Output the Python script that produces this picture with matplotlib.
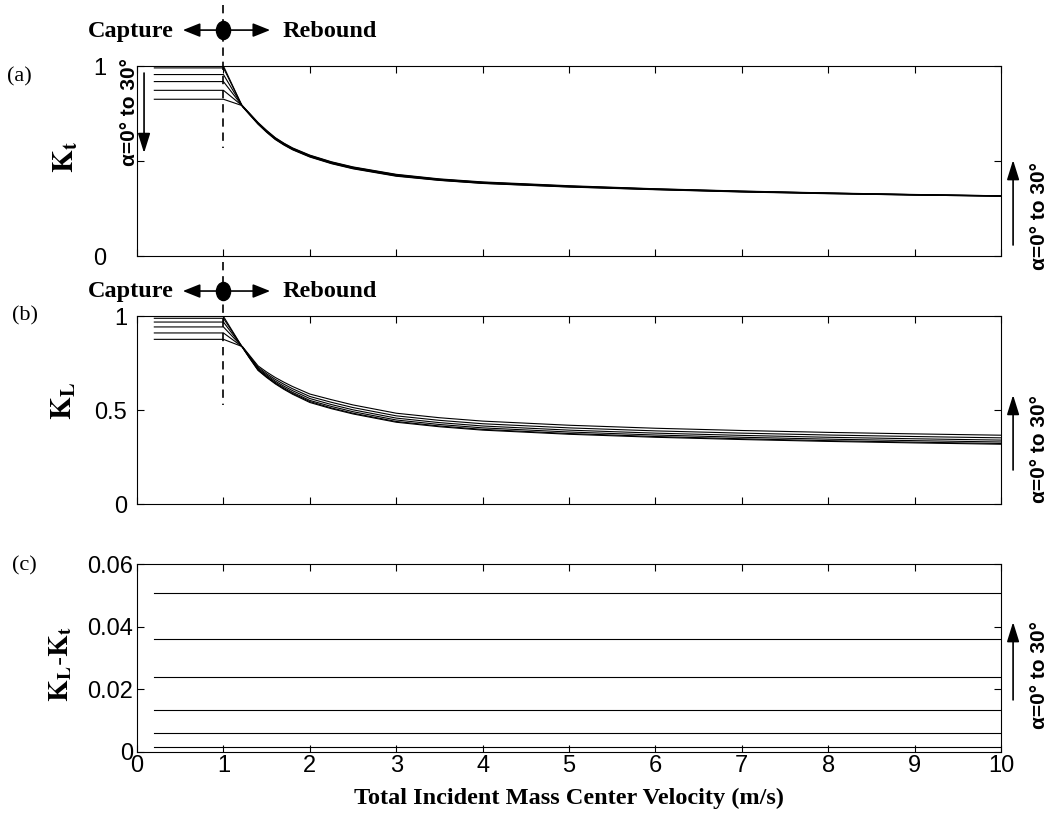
import matplotlib
matplotlib.use('Agg')
import matplotlib.pyplot as plt
from matplotlib.path import Path
from matplotlib.transforms import Affine2D, blended_transform_factory

# velocity samples (m/s)
velocity = [0.2, 1.0, 1.22, 1.3, 1.4, 1.5, 1.6, 1.7, 1.8, 2.0, 2.25, 2.5,
            3.0, 3.5, 4.0, 5.0, 6.0, 7.0, 8.0, 9.0, 10.0]
alphas = [0, 6, 12, 18, 24, 30]

# (a) K_t, one list per alpha
kt_curves = [
    [1.000, 1.000, 0.786, 0.745, 0.694, 0.651, 0.613, 0.584, 0.559, 0.521, 0.486, 0.459,
     0.420, 0.398, 0.382, 0.363, 0.349, 0.337, 0.328, 0.321, 0.315],
    [0.990, 0.990, 0.787, 0.746, 0.696, 0.653, 0.615, 0.586, 0.561, 0.523, 0.488, 0.461,
     0.422, 0.399, 0.383, 0.364, 0.350, 0.338, 0.329, 0.321, 0.315],
    [0.955, 0.955, 0.788, 0.748, 0.697, 0.655, 0.617, 0.588, 0.563, 0.525, 0.490, 0.463,
     0.424, 0.401, 0.385, 0.366, 0.351, 0.339, 0.330, 0.322, 0.316],
    [0.918, 0.918, 0.789, 0.749, 0.699, 0.657, 0.619, 0.590, 0.565, 0.527, 0.492, 0.465,
     0.426, 0.403, 0.387, 0.367, 0.352, 0.340, 0.331, 0.323, 0.316],
    [0.872, 0.872, 0.790, 0.751, 0.701, 0.659, 0.621, 0.592, 0.567, 0.529, 0.494, 0.467,
     0.428, 0.404, 0.388, 0.368, 0.353, 0.341, 0.331, 0.323, 0.317],
    [0.825, 0.825, 0.791, 0.752, 0.703, 0.661, 0.623, 0.594, 0.569, 0.531, 0.496, 0.469,
     0.430, 0.406, 0.390, 0.370, 0.354, 0.342, 0.332, 0.324, 0.317],
]

# (b) K_L, one list per alpha
kl_curves = [
    [0.998, 0.998, 0.833, 0.777, 0.711, 0.673, 0.639, 0.610, 0.584, 0.540, 0.507, 0.479,
     0.435, 0.411, 0.393, 0.371, 0.355, 0.343, 0.333, 0.325, 0.318],
    [0.988, 0.988, 0.833, 0.779, 0.713, 0.676, 0.642, 0.613, 0.588, 0.545, 0.511, 0.483,
     0.439, 0.415, 0.397, 0.375, 0.359, 0.347, 0.337, 0.329, 0.322],
    [0.968, 0.968, 0.834, 0.781, 0.717, 0.680, 0.647, 0.619, 0.594, 0.551, 0.519, 0.491,
     0.447, 0.423, 0.405, 0.383, 0.367, 0.355, 0.345, 0.337, 0.330],
    [0.942, 0.942, 0.835, 0.784, 0.722, 0.686, 0.654, 0.627, 0.603, 0.561, 0.529, 0.501,
     0.457, 0.433, 0.415, 0.393, 0.377, 0.365, 0.355, 0.347, 0.340],
    [0.910, 0.910, 0.836, 0.788, 0.728, 0.693, 0.663, 0.637, 0.613, 0.572, 0.541, 0.513,
     0.469, 0.445, 0.427, 0.405, 0.389, 0.377, 0.367, 0.359, 0.352],
    [0.876, 0.876, 0.837, 0.792, 0.735, 0.702, 0.673, 0.648, 0.625, 0.585, 0.555, 0.527,
     0.483, 0.459, 0.441, 0.419, 0.403, 0.391, 0.381, 0.373, 0.366],
]

# (c) K_L - K_t, constant for each alpha
diff_velocity = [0.2, 10.0]
diff_levels = [0.0015, 0.0062, 0.0134, 0.0238, 0.0362, 0.0509]

plt.rcParams['font.family'] = ['Liberation Sans', 'DejaVu Sans']
plt.rcParams['mathtext.fontset'] = 'stix'

fig = plt.figure(figsize=(10.51, 8.23), dpi=100)
ax_a = fig.add_axes([0.1304, 0.6889, 0.8221, 0.2309])
ax_b = fig.add_axes([0.1304, 0.3876, 0.8221, 0.2284])
ax_c = fig.add_axes([0.1304, 0.0863, 0.8221, 0.2284])

serif_bold = dict(family='Liberation Serif', fontweight='bold')
LW = 0.8


def style(ax, yticks, ylabels, ylim, ypad, xlabels=False):
    ax.set_xlim(0, 10)
    ax.set_ylim(*ylim)
    ax.set_xticks(range(11))
    ax.set_yticks(yticks)
    ax.set_yticklabels(ylabels)
    ax.tick_params(direction='in', top=True, right=True, length=5,
                   width=0.8, labelsize=17, pad=2, labelbottom=xlabels)
    ax.tick_params(axis='y', pad=ypad)
    for sp in ax.spines.values():
        sp.set_linewidth(0.8)


for curve in kt_curves:
    ax_a.plot(velocity, curve, color='black', lw=LW)
for curve in kl_curves:
    ax_b.plot(velocity, curve, color='black', lw=LW)
for lvl in diff_levels:
    ax_c.plot(diff_velocity, [lvl, lvl], color='black', lw=LW)

style(ax_a, [0, 0.5, 1], ['0', '', '1'], (0, 1), 22)
style(ax_b, [0, 0.5, 1], ['0', '0.5', '1'], (0, 1), 7)
style(ax_c, [0, 0.02, 0.04, 0.06], ['0', '0.02', '0.04', '0.06'], (0, 0.06), 3, True)

ax_a.text(-0.082, 0.52, r'$\mathbf{K_t}$', transform=ax_a.transAxes,
          rotation=90, ha='center', va='center', fontsize=21)
ax_b.text(-0.085, 0.55, r'$\mathbf{K_L}$', transform=ax_b.transAxes,
          rotation=90, ha='center', va='center', fontsize=21)
ax_c.text(-0.088, 0.47, r'$\mathbf{K_L}$-$\mathbf{K_t}$', transform=ax_c.transAxes,
          rotation=90, ha='center', va='center', fontsize=20)

ax_c.set_xlabel('Total Incident Mass Center Velocity (m/s)', fontsize=17.5,
                **serif_bold)
ax_c.xaxis.set_label_coords(0.5, -0.19)
ax_c.xaxis.label.set_va('top')

# panel letters
fig.text(0.007, 1 - 77 / 823, '(a)', family='Liberation Serif', fontsize=16, va='center')
fig.text(0.011, 1 - 316 / 823, '(b)', family='Liberation Serif', fontsize=16, va='center')
fig.text(0.011, 1 - 566 / 823, '(c)', family='Liberation Serif', fontsize=16, va='center')

# capture / rebound markers
dot = Path.unit_circle().transformed(Affine2D().scale(0.78, 1.0))
arrow_kw = dict(arrowstyle='-|>,head_length=0.7,head_width=0.28',
                color='black', lw=1.2, mutation_scale=15, shrinkA=0, shrinkB=0)
for ax, y_dot, y_base, y_dash in [(ax_a, 1.189, 1.154, (1.321, 0.568)),
                                  (ax_b, 1.133, 1.0995, (1.287, 0.527))]:
    tr = blended_transform_factory(ax.transData, ax.transAxes)
    ax.plot([1, 1], y_dash, transform=tr, color='black', lw=1.2,
            dashes=(5, 3.5), clip_on=False)
    ax.annotate('', xy=(0.53, y_dot), xytext=(1, y_dot), xycoords=tr,
                textcoords=tr, arrowprops=arrow_kw, annotation_clip=False)
    ax.annotate('', xy=(1.54, y_dot), xytext=(1, y_dot), xycoords=tr,
                textcoords=tr, arrowprops=arrow_kw, annotation_clip=False)
    ax.plot([1], [y_dot], transform=tr, marker=dot, markersize=13,
            color='black', clip_on=False)
    ax.text(0.0428, y_base, 'Capture', transform=ax.transAxes, ha='right',
            va='baseline', fontsize=17.5, **serif_bold)
    ax.text(0.168, y_base, 'Rebound', transform=ax.transAxes, ha='left',
            va='baseline', fontsize=17.5, **serif_bold)

# alpha annotations
alpha_txt = '\u03b1=0\u00b0 to 30\u00b0'
ann_kw = dict(arrowstyle='-|>,head_length=0.8,head_width=0.25',
              color='black', lw=1.2, mutation_scale=15, shrinkA=0, shrinkB=0)

tr_a = blended_transform_factory(ax_a.transData, ax_a.transAxes)
ax_a.annotate('', xy=(0.081, 0.542), xytext=(0.081, 0.963), xycoords=tr_a,
              textcoords=tr_a, arrowprops=ann_kw, annotation_clip=False)
ax_a.text(-0.0093, 0.758, alpha_txt, transform=ax_a.transAxes, rotation=90,
          ha='center', va='center', fontsize=15, fontweight='bold')

for ax, y0, y1, yt in [(ax_a, 0.058, 0.505, 0.21),
                       (ax_b, 0.181, 0.58, 0.29),
                       (ax_c, 0.277, 0.691, 0.41)]:
    ax.annotate('', xy=(1.0139, y1), xytext=(1.0139, y0), xycoords='axes fraction',
                textcoords='axes fraction', arrowprops=ann_kw, annotation_clip=False)
    ax.text(1.044, yt, alpha_txt, transform=ax.transAxes, rotation=90,
            ha='center', va='center', fontsize=15, fontweight='bold')

fig.savefig('out.png', dpi=100)
